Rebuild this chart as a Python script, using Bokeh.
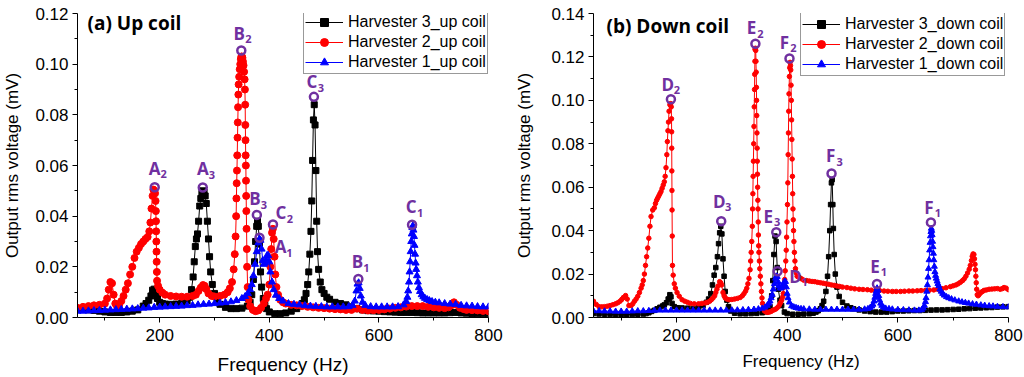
from bokeh.plotting import figure
from bokeh.layouts import row
from bokeh.models import (FixedTicker, PrintfTickFormatter, Legend, LegendItem,
                          ColumnDataSource, Range1d, Label, BoxAnnotation)
from bokeh.core.properties import value
from bokeh.embed import file_html
from bokeh.resources import INLINE

# ---------------- data (frequency Hz, output rms voltage mV) ----------------
x_major = [200, 400, 600, 800]
x_minor = [100, 300, 500, 700]
ya_major = [0.00, 0.02, 0.04, 0.06, 0.08, 0.10, 0.12]
ya_minor = [0.01, 0.03, 0.05, 0.07, 0.09, 0.11]
yb_major = [0.00, 0.02, 0.04, 0.06, 0.08, 0.10, 0.12, 0.14]
yb_minor = [0.01, 0.03, 0.05, 0.07, 0.09, 0.11, 0.13]

labels_a = ["Harvester 3_up coil", "Harvester 2_up coil", "Harvester 1_up coil"]
labels_b = ["Harvester 3_down coil", "Harvester 2_down coil", "Harvester 1_down coil"]

h3_up = [(50,.0035),(60,.0033),(70,.0030),(80,.0028),(90,.0025),(100,.0022),(110,.0020),(120,.0020),
    (130,.0020),(140,.0022),(150,.0025),(160,.0030),(170,.0045),(175,.0055),(180,.0068),(184,.0085),
    (187,.0108),(190,.0112),(193,.0095),(196,.0075),(200,.0060),(205,.0055),(210,.0053),(220,.0052),
    (230,.0053),(240,.0055),(250,.0065),(255,.0080),(258,.0110),(261,.0160),(263,.0220),(265,.0280),
    (267,.0310),(269,.0330),(271,.0380),(273,.0440),(275,.0470),(277,.0490),(279,.0500),(281,.0495),
    (283,.0480),(285,.0450),(287,.0380),(289,.0310),(291,.0240),(293,.0180),(296,.0130),(300,.0095),
    (305,.0070),(310,.0052),(320,.0040),(330,.0035),(340,.0035),(350,.0037),(360,.0045),(365,.0060),
    (368,.0090),(371,.0150),(373,.0220),(375,.0300),(377,.0360),(378.5,.0380),(380,.0360),(382,.0290),
    (384,.0180),(386,.0120),(389,.0075),(392,.0048),(395,.0035),(400,.0022),(410,.0015),(420,.0015),
    (430,.0018),(440,.0025),(450,.0035),(455,.0045),(460,.0055),(464,.0070),(467,.0095),(470,.0130),
    (472,.0180),(474,.0250),(476,.0340),(477.5,.0460),(479,.0620),(480.5,.0780),(482,.0840),(483.5,.0760),
    (485,.0580),(486.5,.0380),(488,.0260),(490,.0190),(493,.0140),(496,.0110),(500,.0095),(505,.0080),
    (510,.0072),(520,.0060),(530,.0055),(540,.0050),(550,.0042),(560,.0035),(570,.0030),(580,.0027),
    (590,.0026),(600,.0025),(610,.0023),(620,.0022),(630,.0021),(640,.0020),(650,.0020),(660,.0020),
    (670,.0019),(680,.0018),(690,.0018),(700,.0018),(710,.0018),(720,.0018),(730,.0019),(740,.0020),
    (750,.0018),(760,.0017),(770,.0016),(780,.0015),(790,.0015),(800,.0015)]

h2_up = [(50,.0038),(60,.0042),(70,.0045),(80,.0048),(90,.0050),(100,.0055),(104,.0075),(107,.0110),
    (110,.0140),(113,.0135),(116,.0090),(119,.0055),(122,.0045),(126,.0050),(130,.0065),(134,.0085),
    (138,.0110),(142,.0135),(146,.0170),(150,.0200),(154,.0235),(158,.0260),(162,.0275),(166,.0290),
    (170,.0300),(174,.0310),(178,.0318),(181,.0340),(183,.0375),(185,.0430),(187,.0480),(188.5,.0505),
    (190,.0500),(191.5,.0490),(192.5,.0460),(193,.0420),(193.3,.0380),(193.6,.0340),(193.9,.0300),
    (194.2,.0260),(194.5,.0220),(194.8,.0180),(195.2,.0145),(197,.0125),(200,.0110),(205,.0098),
    (210,.0090),(220,.0085),(230,.0083),(240,.0082),(250,.0082),(260,.0085),(266,.0090),(271,.0105),
    (275,.0118),(279,.0128),(282,.0125),(285,.0112),(289,.0095),(295,.0085),(300,.0083),(310,.0085),
    (318,.0090),(324,.0100),(328,.0115),(332,.0140),(335,.0190),(337,.0250),(338.5,.0320),(339.5,.0400),
    (340,.0470),(340.5,.0530),(341,.0580),(341.5,.0640),(342,.0710),(342.5,.0770),(343,.0830),
    (343.5,.0880),(344,.0920),(345,.0950),(346,.0980),(347,.1000),(348,.1020),(349,.1030),(350,.1030),
    (351,.1025),(352,.1010),(353,.0995),(354,.0970),(355,.0940),(355.5,.0900),(356,.0840),(356.3,.0760),
    (356.6,.0700),(356.9,.0640),(357.2,.0600),(357.5,.0540),(357.8,.0480),(358.1,.0420),(358.5,.0350),
    (359,.0270),(359.5,.0200),(360.5,.0120),(362,.0070),(365,.0045),(370,.0030),(375,.0025),(380,.0028),
    (385,.0038),(390,.0055),(394,.0075),(397,.0090),(400,.0130),(402,.0200),(403.5,.0270),(405,.0335),
    (406.5,.0350),(408,.0310),(409.5,.0240),(411,.0170),(413,.0120),(416,.0090),(420,.0070),(425,.0060),
    (430,.0055),(440,.0050),(450,.0048),(460,.0045),(470,.0042),(480,.0040),(490,.0038),(500,.0037),
    (510,.0035),(520,.0033),(530,.0032),(540,.0030),(550,.0030),(560,.0035),(570,.0030),(580,.0028),
    (590,.0029),(600,.0030),(610,.0032),(620,.0035),(630,.0038),(640,.0040),(650,.0043),(660,.0045),
    (670,.0045),(680,.0045),(690,.0042),(700,.0040),(710,.0038),(720,.0037),(727,.0040),(732,.0048),
    (737,.0060),(742,.0050),(748,.0038),(755,.0033),(760,.0030),(770,.0029),(780,.0028),(790,.0026),
    (800,.0025)]

h1_up = [(50,.0025),(60,.0025),(70,.0026),(80,.0027),(90,.0028),(100,.0029),(110,.0030),(120,.0031),
    (130,.0032),(140,.0033),(150,.0034),(160,.0035),(170,.0037),(180,.0038),(190,.0040),(200,.0041),
    (210,.0042),(220,.0043),(230,.0044),(240,.0045),(250,.0047),(260,.0048),(270,.0050),(280,.0052),
    (290,.0053),(300,.0055),(310,.0057),(320,.0059),(330,.0062),(340,.0067),(350,.0075),(356,.0083),
    (361,.0095),(365,.0110),(368,.0130),(371,.0165),(374,.0210),(377,.0260),(380,.0295),(382,.0310),
    (384,.0305),(386,.0270),(388,.0225),(390,.0210),(392,.0215),(394,.0230),(396,.0245),(398,.0245),
    (400,.0220),(402,.0180),(405,.0140),(408,.0110),(412,.0088),(418,.0075),(425,.0065),(435,.0055),
    (445,.0052),(455,.0050),(465,.0047),(475,.0045),(485,.0044),(495,.0043),(505,.0042),(515,.0042),
    (525,.0042),(535,.0042),(545,.0043),(552,.0048),(556,.0065),(559,.0105),(561,.0132),(563,.0137),
    (565,.0115),(567,.0085),(570,.0060),(575,.0048),(585,.0043),(595,.0042),(605,.0042),(615,.0042),
    (625,.0042),(635,.0043),(645,.0050),(650,.0063),(652,.0080),(653.5,.0105),(655,.0140),(656,.0180),
    (657,.0220),(658,.0260),(659,.0300),(660,.0330),(661,.0355),(662,.0362),(663,.0345),(664,.0320),
    (665,.0285),(666,.0250),(667,.0215),(668,.0190),(669.5,.0165),(671,.0140),(673,.0118),(675,.0103),
    (678,.0090),(681,.0082),(684,.0076),(688,.0071),(692,.0067),(697,.0063),(703,.0060),(710,.0058),
    (720,.0055),(730,.0053),(740,.0052),(750,.0048),(760,.0046),(770,.0045),(780,.0043),(790,.0042),
    (800,.0042)]

h3_down = [(50,.0018),(60,.0016),(70,.0015),(80,.0014),(90,.0013),(100,.0013),(110,.0013),(120,.0014),
    (130,.0015),(140,.0016),(145,.0018),(150,.0022),(155,.0028),(160,.0033),(165,.0040),(170,.0047),
    (175,.0053),(178,.0058),(182,.0068),(185,.0085),(188,.0105),(190,.0095),(192,.0065),(196,.0050),
    (202,.0045),(210,.0044),(220,.0043),(230,.0042),(240,.0045),(248,.0055),(254,.0070),(258,.0085),
    (262,.0110),(265,.0150),(268,.0195),(271,.0230),(274,.0280),(276,.0340),(278,.0390),(280,.0420),
    (282,.0385),(284,.0270),(286,.0190),(288,.0120),(291,.0080),(294,.0050),(298,.0030),(305,.0020),
    (315,.0017),(325,.0017),(335,.0018),(345,.0019),(355,.0022),(362,.0026),(366,.0032),(369,.0050),
    (372,.0100),(374,.0170),(376,.0290),(378,.0375),(380,.0350),(382,.0230),(384,.0130),(387,.0080),
    (390,.0055),(395,.0025),(400,.0018),(410,.0015),(420,.0015),(430,.0016),(440,.0017),(447,.0020),
    (452,.0025),(456,.0031),(460,.0040),(463,.0055),(466,.0075),(470,.0120),(473,.0190),(475,.0280),
    (477,.0400),(478.5,.0520),(480,.0620),(481.3,.0635),(482.5,.0520),(483.5,.0410),(485,.0290),
    (487,.0200),(490,.0140),(494,.0097),(500,.0070),(508,.0053),(515,.0045),(520,.0040),(530,.0035),
    (540,.0030),(550,.0027),(560,.0025),(570,.0025),(580,.0025),(590,.0027),(600,.0030),(610,.0030),
    (620,.0031),(630,.0032),(640,.0032),(650,.0033),(660,.0034),(670,.0035),(680,.0035),(690,.0036),
    (700,.0037),(710,.0038),(720,.0040),(730,.0041),(740,.0043),(750,.0044),(760,.0045),(770,.0046),
    (780,.0048),(790,.0049),(800,.0050)]

h2_down = [(50,.0075),(55,.0060),(60,.0050),(65,.0049),(70,.0050),(75,.0052),(80,.0055),(85,.0059),
    (90,.0063),(94,.0068),(98,.0075),(101,.0083),(104,.0092),(108,.0101),(111,.0085),(114,.0055),
    (118,.0055),(121,.0063),(124,.0075),(127,.0085),(130,.0098),(133,.0115),(136,.0135),(138,.0150),
    (140,.0170),(142,.0200),(144,.0240),(146,.0280),(148,.0320),(150,.0365),(152,.0420),(154,.0465),
    (157,.0495),(160,.0505),(162,.0525),(164,.0540),(166,.0550),(168,.0560),(170,.0570),(172,.0580),
    (174,.0595),(176,.0610),(178,.0625),(179.5,.0650),(181,.0690),(182.5,.0750),(183.5,.0810),
    (184.5,.0860),(185.5,.0900),(186.5,.0950),(188,.0980),(189.5,.0985),(190.5,.0970),(191,.0915),
    (191.2,.0855),(191.4,.0780),(191.6,.0675),(191.8,.0585),(192,.0495),(192.3,.0375),(192.7,.0240),
    (194,.0195),(196,.0155),(198,.0135),(201,.0115),(205,.0098),(210,.0082),(215,.0075),(220,.0070),
    (225,.0065),(232,.0063),(240,.0063),(246,.0065),(252,.0067),(256,.0070),(260,.0075),(263,.0082),
    (266,.0090),(269,.0100),(271,.0115),(273,.0130),(275,.0145),(278,.0165),(280,.0160),(281.5,.0150),
    (284,.0115),(286,.0100),(288,.0090),(291,.0085),(295,.0082),(300,.0083),(305,.0085),(310,.0088),
    (315,.0092),(319,.0100),(322,.0110),(325,.0122),(327,.0135),(329,.0155),(331,.0180),(333,.0220),
    (334,.0260),(335,.0300),(336,.0350),(337,.0420),(337.5,.0500),(338,.0570),(338.5,.0650),(339,.0720),
    (339.5,.0800),(340,.0880),(340.5,.0970),(341,.1050),(341.3,.1120),(341.7,.1180),(342,.1235),
    (342.6,.1240),(343.2,.1230),(343.6,.1180),(344,.1130),(344.4,.1060),(344.7,.1000),(345,.0930),
    (345.4,.0850),(345.7,.0780),(346,.0720),(346.3,.0660),(346.6,.0600),(347,.0540),(347.3,.0500),
    (347.7,.0440),(348,.0380),(348.5,.0330),(349,.0300),(349.8,.0260),(350.5,.0225),(351.5,.0190),
    (352.5,.0155),(353.5,.0120),(354.5,.0090),(355.5,.0065),(357,.0040),(359,.0030),(362,.0025),
    (365,.0024),(368,.0025),(371,.0028),(374,.0033),(377,.0036),(380,.0040),(383,.0047),(386,.0058),
    (388,.0068),(390,.0080),(392,.0095),(393,.0110),(394.5,.0140),(395.5,.0175),(396.5,.0215),
    (397.5,.0260),(398.3,.0310),(399,.0370),(399.7,.0440),(400.5,.0520),(401.2,.0620),(401.8,.0750),
    (402.3,.0850),(402.8,.0950),(403.3,.1030),(404,.1110),(404.6,.1150),(405.3,.1175),(406,.1160),
    (406.5,.1140),(407,.1070),(407.5,.1000),(408,.0910),(408.5,.0820),(409,.0730),(409.5,.0650),
    (410,.0570),(410.5,.0500),(411,.0450),(411.5,.0400),(412.2,.0350),(413,.0300),(414,.0260),
    (415,.0225),(416.5,.0205),(418,.0190),(420,.0187),(422,.0185),(426,.0178),(430,.0172),(435,.0170),
    (440,.0168),(445,.0166),(450,.0165),(455,.0162),(460,.0160),(465,.0158),(470,.0155),(475,.0153),
    (480,.0150),(485,.0148),(490,.0145),(495,.0143),(500,.0140),(508,.0138),(515,.0135),(522,.0132),
    (530,.0130),(537,.0129),(545,.0128),(552,.0126),(560,.0125),(567,.0124),(575,.0122),(582,.0121),
    (590,.0120),(597,.0120),(605,.0120),(612,.0121),(620,.0122),(627,.0122),(635,.0123),(642,.0124),
    (650,.0125),(657,.0126),(665,.0127),(672,.0130),(680,.0133),(687,.0137),(695,.0142),(700,.0146),
    (705,.0150),(709,.0155),(713,.0162),(717,.0170),(720,.0178),(723,.0190),(726,.0205),(729,.0222),
    (731,.0240),(733,.0262),(734.5,.0282),(736,.0293),(737.5,.0290),(738.5,.0270),(739.5,.0245),
    (740.3,.0220),(741,.0190),(741.7,.0160),(742.5,.0130),(743.5,.0105),(745,.0100),(746.5,.0105),
    (748,.0110),(750,.0115),(753,.0120),(756,.0125),(760,.0127),(765,.0130),(770,.0131),(775,.0132),
    (780,.0133),(785,.0130),(789,.0133),(792,.0138),(796,.0135),(800,.0128)]

h1_down = [(50,.0030),(60,.0030),(70,.0029),(80,.0029),(90,.0028),(100,.0028),(110,.0028),(120,.0029),
    (130,.0030),(140,.0030),(150,.0031),(160,.0032),(170,.0033),(180,.0033),(190,.0033),(200,.0033),
    (210,.0033),(220,.0033),(230,.0033),(240,.0033),(250,.0033),(260,.0033),(270,.0033),(280,.0033),
    (290,.0033),(300,.0034),(310,.0034),(320,.0035),(330,.0036),(340,.0037),(348,.0039),(355,.0042),
    (360,.0047),(364,.0055),(367,.0065),(369,.0075),(371,.0090),(373,.0105),(375,.0130),(377,.0155),
    (379,.0180),(380.5,.0190),(382,.0188),(383.5,.0165),(385,.0145),(387,.0135),(389,.0135),(391,.0142),
    (393,.0155),(395,.0165),(397,.0165),(398.5,.0140),(400,.0110),(401.5,.0090),(404,.0070),(408,.0053),
    (412,.0048),(416,.0045),(420,.0042),(425,.0040),(430,.0039),(440,.0038),(450,.0037),(460,.0037),
    (470,.0037),(480,.0037),(490,.0037),(500,.0037),(510,.0037),(520,.0037),(530,.0037),(540,.0038),
    (546,.0040),(550,.0045),(553,.0052),(555,.0060),(557,.0075),(558.5,.0092),(560,.0110),(561,.0122),
    (562.5,.0135),(564,.0125),(565.5,.0100),(567,.0080),(569,.0065),(571,.0055),(574,.0047),(578,.0042),
    (584,.0040),(590,.0038),(600,.0036),(610,.0035),(620,.0034),(630,.0033),(638,.0033),(643,.0035),
    (646,.0043),(648,.0055),(650,.0072),(651,.0090),(652.3,.0120),(653.5,.0150),(654.5,.0185),
    (655.5,.0225),(656.5,.0265),(657.5,.0310),(658.3,.0345),(659,.0375),(659.8,.0395),(660.5,.0410),
    (661.3,.0400),(662,.0380),(662.8,.0350),(663.5,.0325),(664.3,.0295),(665,.0265),(666,.0235),
    (667,.0210),(668.3,.0193),(669.5,.0180),(671,.0167),(672.5,.0155),(674,.0145),(676,.0130),
    (678.5,.0120),(681,.0110),(684,.0102),(688,.0095),(692,.0090),(697,.0085),(703,.0080),(710,.0075),
    (716,.0071),(722,.0068),(728,.0065),(735,.0062),(742,.0060),(750,.0057),(757,.0055),(765,.0053),
    (772,.0052),(780,.0050),(790,.0049),(800,.0048)]

# marked resonance peaks: letter, subscript, frequency, voltage
peaks_a_letter = ["A", "A", "B", "C", "B", "C", "A", "B", "C"]
peaks_a_sub = ["2", "3", "2", "3", "3", "2", "1", "1", "1"]
peaks_a_freq = [190.9, 278.6, 348.9, 481.4, 377.3, 406.7, 382.1, 562.5, 660.5]
peaks_a_volt = [0.0514, 0.0513, 0.1054, 0.0871, 0.0405, 0.0367, 0.0315, 0.0152, 0.0366]

peaks_b_letter = ["D", "E", "F", "F", "D", "E", "D", "E", "F"]
peaks_b_sub = ["2", "2", "2", "3", "3", "3", "1", "1", "1"]
peaks_b_freq = [189.9, 342.6, 404.2, 480.2, 280.8, 380.3, 382.7, 562.3, 659.8]
peaks_b_volt = [0.1005, 0.1261, 0.1193, 0.0663, 0.0443, 0.0393, 0.0213, 0.0154, 0.0438]

# ---------------- styles ----------------
PURPLE = "#7030A0"
TICK_FONT = "Liberation Sans"
PEAK_FONT = "Open Sans"
# label placement (screen px, relative to peak circle)
peaks_a_dx = [0, 0, -2, -2, -2, 8, 21, -1, -1]
peaks_a_dy = [-19, -19, -17, -15, -16, -12, 9, -17, -18]
peaks_b_dx = [-3, -4, -5, -1, -2, -8, 18, -2, -2]
peaks_b_dy = [-15, -16, -16, -18, -20, -16, 5, -18, -15]


def make_panel(series, names, ymax, ymaj, ymin, sizes, title, title_xy,
               letters, subs, pf, pv, pdx, pdy, legend_xy, borders,
               xlabel_size, tick_standoff, x_standoff, y_standoff, sel_box):
    b_left, b_right, b_top, b_bottom = borders
    p = figure(width=512, height=377, x_range=Range1d(50, 800),
               y_range=Range1d(0, ymax), output_backend="svg",
               toolbar_location=None, min_border_left=b_left,
               min_border_right=b_right, min_border_top=b_top,
               min_border_bottom=b_bottom)
    p.outline_line_color = None
    p.grid.visible = False
    p.background_fill_color = "white"
    p.border_fill_color = "white"

    p.xaxis.ticker = FixedTicker(ticks=x_major, minor_ticks=x_minor)
    p.yaxis.ticker = FixedTicker(ticks=ymaj, minor_ticks=ymin)
    p.yaxis.formatter = PrintfTickFormatter(format="%.2f")
    for ax in (p.xaxis, p.yaxis):
        ax.axis_line_color = "black"
        ax.axis_line_width = 1
        ax.major_tick_line_color = "black"
        ax.minor_tick_line_color = "black"
        ax.major_tick_in = 0
        ax.major_tick_out = 5
        ax.minor_tick_in = 0
        ax.minor_tick_out = 3
        ax.major_label_text_font = TICK_FONT
        ax.major_label_text_font_size = "17px"
        ax.major_label_text_color = "black"
        ax.axis_label_text_font = TICK_FONT
        ax.axis_label_text_font_style = "normal"
        ax.axis_label_text_color = "black"
    p.yaxis.major_label_standoff = 4
    p.xaxis.major_label_standoff = tick_standoff
    p.xaxis.axis_label = "Frequency (Hz)"
    p.xaxis.axis_label_text_font_size = xlabel_size
    p.xaxis.axis_label_standoff = x_standoff
    p.yaxis.axis_label = "Output rms voltage (mV)"
    p.yaxis.axis_label_text_font_size = "17px"
    p.yaxis.axis_label_standoff = y_standoff

    colors = ["#000000", "#FF0000", "#0000FF"]
    markers = ["square", "circle", "triangle"]
    items = []
    for data, name, col, mk, sz in zip(series, names, colors, markers, sizes):
        f = [d[0] for d in data]
        v = [d[1] for d in data]
        src = ColumnDataSource(dict(f=f, v=v))
        lr = p.line("f", "v", source=src, line_color=col, line_width=1)
        sr = p.scatter("f", "v", source=src, marker=mk, size=sz,
                       fill_color=col, line_color=col)
        items.append(LegendItem(label=name, renderers=[lr, sr]))

    legend = Legend(items=items, location=legend_xy, glyph_width=38,
                    glyph_height=20, label_height=20, spacing=0, padding=1,
                    margin=0, label_standoff=5,
                    label_text_font=TICK_FONT, label_text_font_size="16px",
                    label_text_color="black", border_line_color="#333333",
                    border_line_width=1, background_fill_color="white",
                    background_fill_alpha=1.0)
    p.add_layout(legend)
    # red selection frame around one legend symbol, as in the original figure
    p.add_layout(BoxAnnotation(left=sel_box[0], right=sel_box[1],
                               bottom=sel_box[2], top=sel_box[3],
                               left_units="screen", right_units="screen",
                               bottom_units="screen", top_units="screen",
                               fill_alpha=0, line_color="#FF2020",
                               line_width=1, line_alpha=0.9))

    ps = ColumnDataSource(dict(f=pf, v=pv, letter=letters, sub=subs,
                               dx=pdx, dy=pdy,
                               sdx=[d + 9 for d in pdx], sdy=[d + 6 for d in pdy]))
    p.scatter("f", "v", source=ps, marker="circle", size=8, fill_color=None,
              line_color=PURPLE, line_width=2.5)
    p.text("f", "v", text="letter", source=ps, x_offset="dx", y_offset="dy",
           text_font=value(PEAK_FONT), text_font_style="bold",
           text_font_size="17px", text_color=PURPLE, text_align="center",
           text_baseline="middle")
    p.text("f", "v", text="sub", source=ps, x_offset="sdx", y_offset="sdy",
           text_font=value(PEAK_FONT), text_font_style="bold",
           text_font_size="11px", text_color=PURPLE, text_align="center",
           text_baseline="middle")

    p.add_layout(Label(x=title_xy[0], y=title_xy[1], x_units="screen",
                       y_units="screen", text=title, text_font=PEAK_FONT,
                       text_font_style="bold", text_font_size="19px",
                       text_color="black", text_baseline="middle"))
    return p


pa = make_panel([h3_up, h2_up, h1_up], labels_a, 0.12, ya_major, ya_minor,
                [6, 7, 7], "(a) Up coil", (10, 295),
                peaks_a_letter, peaks_a_sub, peaks_a_freq, peaks_a_volt,
                peaks_a_dx, peaks_a_dy, (226, 243), (73, 24, 12, 59),
                "19px", 6, 10, 10, (228, 267, 287, 305))
pb = make_panel([h3_down, h2_down, h1_down], labels_b, 0.14, yb_major, yb_minor,
                [4.5, 4.5, 6], "(b) Down coil", (13, 292),
                peaks_b_letter, peaks_b_sub, peaks_b_freq, peaks_b_volt,
                peaks_b_dx, peaks_b_dy, (207, 241), (79, 16, 13, 59),
                "17px", 6, 8, 14, (209, 247, 263, 284))

layout = row(pa, pb)
open("out.html", "w").write(file_html(layout, INLINE))
